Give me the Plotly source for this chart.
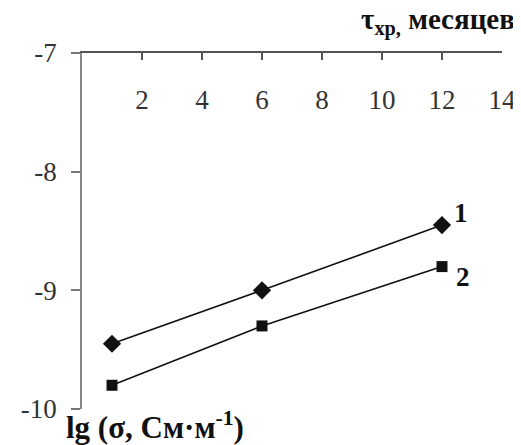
import plotly.graph_objects as go

months = [1, 6, 12]
series1 = [-9.45, -9.0, -8.45]
series2 = [-9.8, -9.3, -8.8]
x_ticks = [2, 4, 6, 8, 10, 12, 14]
y_ticks = [-7, -8, -9, -10]
series_labels = ["1", "2"]

FONT = "Liberation Serif"
TICK_SIZE = 27
TITLE_SIZE = 29
YTITLE_SIZE = 31
LABEL_SIZE = 27

fig = go.Figure()
fig.add_trace(go.Scatter(x=months, y=series1, mode="lines+markers",
                         line=dict(color="#111", width=1.6),
                         marker=dict(symbol="diamond", size=14, color="#111")))
fig.add_trace(go.Scatter(x=months, y=series2, mode="lines+markers",
                         line=dict(color="#111", width=1.6),
                         marker=dict(symbol="square", size=11, color="#111")))
# invisible trace to carry the label axis
fig.add_trace(go.Scatter(x=[months[0]], y=[series1[0]], xaxis="x2", mode="markers",
                         marker=dict(opacity=0), hoverinfo="skip"))

fig.update_layout(
    width=513, height=437,
    margin=dict(l=74, r=19, t=45, b=36),
    plot_bgcolor="white", paper_bgcolor="white",
    showlegend=False,
    font=dict(family=FONT, size=TICK_SIZE, color="#333"),
    xaxis=dict(range=[0, 14], side="top", tickvals=x_ticks, showticklabels=False,
               ticks="inside", ticklen=7, tickcolor="#555", tickwidth=1.5,
               showline=True, linecolor="#555", linewidth=1.8,
               showgrid=False, zeroline=False, automargin=False),
    xaxis2=dict(range=[0, 14], overlaying="x", anchor="free", position=0.922,
                side="bottom", tickvals=x_ticks,
                ticktext=[str(v) for v in x_ticks], ticks="",
                showline=False, showgrid=False, zeroline=False, automargin=False,
                tickfont=dict(family=FONT, size=TICK_SIZE, color="#333")),
    yaxis=dict(range=[-10, -7], tickvals=y_ticks,
               ticktext=[str(v) for v in y_ticks],
               ticks="outside", ticklen=9, tickcolor="#777", tickwidth=1.5,
               ticklabelstandoff=9,
               showline=True, linecolor="#888", linewidth=1.8,
               showgrid=False, zeroline=False, automargin=False,
               tickfont=dict(family=FONT, size=TICK_SIZE, color="#333")),
)

# series labels at the end points
fig.add_annotation(x=months[-1], y=series1[-1], text="<b>" + series_labels[0] + "</b>",
                   showarrow=False, xanchor="left", yanchor="middle", xshift=10, yshift=12,
                   font=dict(family=FONT, size=LABEL_SIZE, color="#111"))
fig.add_annotation(x=months[-1], y=series2[-1], text="<b>" + series_labels[1] + "</b>",
                   showarrow=False, xanchor="left", yanchor="middle", xshift=12, yshift=-10,
                   font=dict(family=FONT, size=LABEL_SIZE, color="#111"))

# axis titles
fig.add_annotation(xref="paper", yref="paper", x=1.036, y=1.0, yshift=11,
                   text="<b>τ<sub>хр,</sub> месяцев</b>", showarrow=False,
                   xanchor="right", yanchor="bottom",
                   font=dict(family=FONT, size=TITLE_SIZE, color="#111"))
fig.add_annotation(xref="paper", yref="paper", x=0.0, y=0.0, xshift=-18, yshift=5,
                   text="<b>lg (σ, См·м<sup>-1</sup>)</b>", showarrow=False,
                   xanchor="left", yanchor="top",
                   font=dict(family=FONT, size=YTITLE_SIZE, color="#111"))

fig.write_html("out.html")
